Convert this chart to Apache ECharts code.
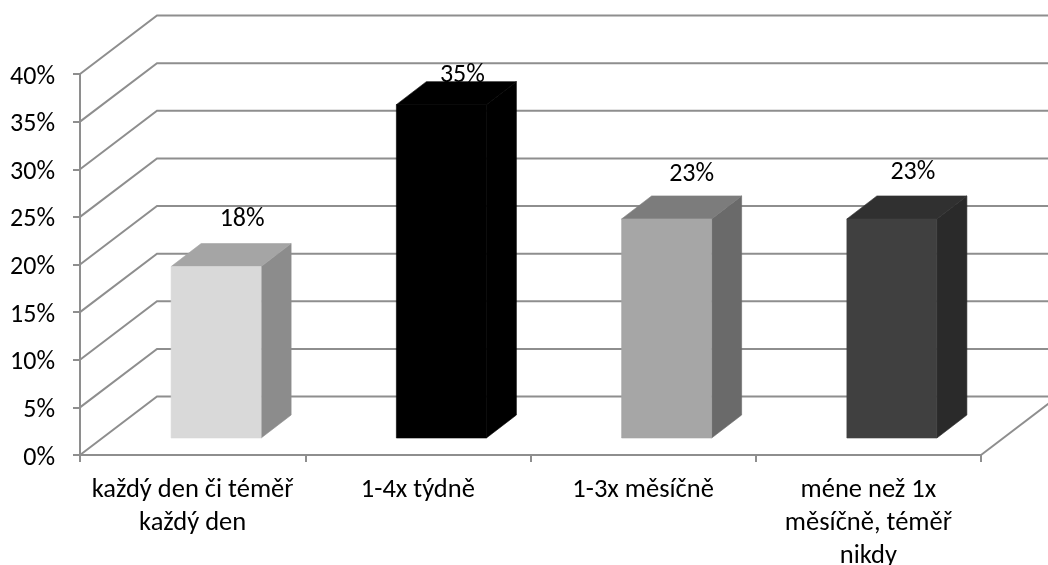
<!DOCTYPE html>
<html>
<head>
<meta charset="utf-8">
<style>html,body{margin:0;padding:0;background:#fff}#chart{width:1048px;height:565px}</style>
<script src="https://cdn.jsdelivr.net/npm/echarts@6/dist/echarts.min.js"></script>
</head>
<body>
<div id="chart"></div>
<script>
// Share of respondents per frequency, in percent
const categories = ['každý den či téměř\nkaždý den', '1-4x týdně', '1-3x měsíčně', 'méne než 1x\nměsíčně, téměř\nnikdy'];
const shares = [18, 35, 23, 23];
const gridTicks = [0, 5, 10, 15, 20, 25, 30, 35, 40];

// Shades of each column: front, top and side faces
const frontFaces = ['#d9d9d9', '#000000', '#a6a6a6', '#404040'];
const topFaces = ['#a5a5a5', '#000000', '#7c7c7c', '#303030'];
const sideFaces = ['#8c8c8c', '#000000', '#6a6a6a', '#2a2a2a'];

// Oblique projection of the chart box and of the columns inside it
const WALL_DX = 77, WALL_DY = -58.5;
const BAR_SHIFT_DX = 23.5, BAR_SHIFT_DY = -17;
const BAR_DEPTH_DX = 30, BAR_DEPTH_DY = -23;
const BAR_WIDTH = 90;
const LINE_GREY = '#8e8e8e';
const FONT_FAMILY = 'Carlito, Calibri, Lato, sans-serif';
const FONT_SIZE = 26;
const CATEGORY_FONT_SIZE = 26.5;

// Hand-placed value labels, offset from the column's front top centre
const labelOffsets = [[26, -47], [21, -29], [25, -44], [21, -46]];

function renderWall(params, api) {
  const box = params.coordSys;
  const y = api.coord([0, api.value(0)])[1];
  const left = box.x, right = box.x + box.width;
  const children = [{
    type: 'polyline',
    shape: { points: [[left, y], [left + WALL_DX, y + WALL_DY], [right + WALL_DX, y + WALL_DY]] },
    style: { fill: null, stroke: LINE_GREY, lineWidth: 2 }
  }];
  if (api.value(0) === 0) {
    children.push({
      type: 'line',
      shape: { x1: right, y1: y, x2: right + WALL_DX, y2: y + WALL_DY },
      style: { stroke: LINE_GREY, lineWidth: 2 }
    });
  }
  return { type: 'group', children };
}

function renderColumn(params, api) {
  const i = api.value(0), v = api.value(1);
  const cx = api.coord([i, v])[0] + BAR_SHIFT_DX;
  const x0 = cx - BAR_WIDTH / 2, x1 = cx + BAR_WIDTH / 2;
  const top = api.coord([i, v])[1] + BAR_SHIFT_DY;
  const bottom = api.coord([i, 0])[1] + BAR_SHIFT_DY;
  const dx = BAR_DEPTH_DX, dy = BAR_DEPTH_DY;
  const off = labelOffsets[i];
  // A hairline in the face colour closes the seams between adjoining faces
  const face = c => ({ fill: c, stroke: c, lineWidth: 0.6 });
  return {
    type: 'group',
    children: [
      { type: 'polygon', shape: { points: [[x1, top], [x1 + dx, top + dy], [x1 + dx, bottom + dy], [x1, bottom]] },
        style: face(sideFaces[i]) },
      { type: 'polygon', shape: { points: [[x0, top], [x0 + dx, top + dy], [x1 + dx, top + dy], [x1, top]] },
        style: face(topFaces[i]) },
      { type: 'rect', shape: { x: x0, y: top, width: BAR_WIDTH, height: bottom - top },
        style: face(frontFaces[i]) },
      { type: 'text', z2: 10,
        style: { text: v + '%', x: cx + off[0], y: top + off[1], align: 'center', verticalAlign: 'middle',
                 fontFamily: FONT_FAMILY, fontSize: FONT_SIZE, fill: '#000' } }
    ]
  };
}

const chart = echarts.init(document.getElementById('chart'), null, { renderer: 'canvas' });
chart.setOption({
  animation: false,
  backgroundColor: '#fff',
  grid: { left: 80, right: 67, top: 74, bottom: 110, containLabel: false, outerBoundsMode: 'none' },
  xAxis: {
    type: 'category',
    data: categories,
    axisLine: { lineStyle: { color: LINE_GREY, width: 2 } },
    axisTick: { show: true, length: 7, lineStyle: { color: LINE_GREY, width: 2 }, alignWithLabel: false },
    axisLabel: { color: '#000', fontFamily: FONT_FAMILY, fontSize: CATEGORY_FONT_SIZE,
                 lineHeight: 33, margin: 19, interval: 0, hideOverlap: false },
    splitLine: { show: false }
  },
  yAxis: {
    type: 'value',
    min: 0, max: 40, interval: 5,
    axisLine: { show: true, lineStyle: { color: LINE_GREY, width: 2 } },
    axisTick: { show: true, length: 7, lineStyle: { color: LINE_GREY, width: 2 } },
    // Tick labels sit slightly below their ticks
    axisLabel: { color: '#000', fontFamily: FONT_FAMILY, fontSize: FONT_SIZE, margin: 25,
                 verticalAlign: 'top', lineHeight: 6, formatter: '{value}%' },
    splitLine: { show: false }
  },
  series: [
    { type: 'custom', renderItem: renderWall, data: gridTicks.map(t => [t]),
      encode: { y: 0 }, silent: true, z: 1 },
    { type: 'custom', renderItem: renderColumn, data: shares.map((s, i) => [i, s]),
      encode: { x: 0, y: 1 }, silent: true, z: 2 }
  ]
});
</script>
</body>
</html>
